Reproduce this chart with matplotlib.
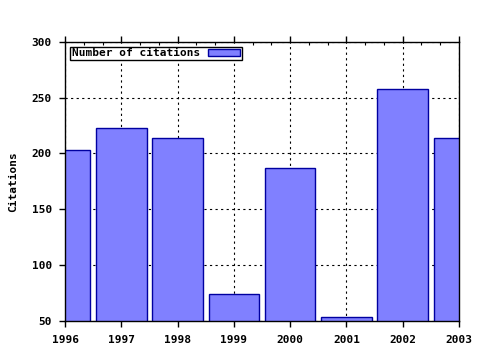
import matplotlib
matplotlib.use("Agg")
import matplotlib.pyplot as plt
from matplotlib.ticker import MultipleLocator

years = [1996, 1997, 1998, 1999, 2000, 2001, 2002, 2003]
citations = [203, 223, 214, 74, 187, 53, 258, 214]
series_label = "Number of citations"
y_label = "Citations"

plt.rcParams['font.family'] = ['DejaVu Sans Mono']
plt.rcParams['font.weight'] = 'bold'
plt.rcParams['axes.labelweight'] = 'bold'

fig = plt.figure(figsize=(4.8, 3.5), dpi=100)
ax = fig.add_axes([65/480, 1 - 320.7/350, (459 - 65)/480, (320.7 - 41.7)/350])

ax.bar(years, citations, width=0.9, bottom=0, color='#8080ff',
       edgecolor='#0000a0', linewidth=1.0, label=series_label, zorder=2)

ax.set_xlim(1996, 2003)
ax.set_ylim(50, 300)
ax.set_xticks(years)
ax.set_yticks([50, 100, 150, 200, 250, 300])
ax.xaxis.set_minor_locator(MultipleLocator(1/3))

# dotted grid behind the bars
ax.grid(True, which='major', color='black', linestyle=(0, (2, 3)), linewidth=0.8, zorder=0)
ax.set_axisbelow(True)

ax.tick_params(axis='x', which='major', direction='out', top=True, bottom=True,
               length=4, width=1, labelsize=8, pad=6)
ax.tick_params(axis='x', which='minor', direction='in', top=True, bottom=True,
               length=2.5, width=0.8)
ax.tick_params(axis='y', which='major', direction='out', length=4, width=1,
               labelsize=8, right=False, pad=5.5)

for s in ax.spines.values():
    s.set_linewidth(1.0)
    s.set_color('black')

ax.set_ylabel(y_label, fontsize=8, labelpad=10)

leg = ax.legend(loc='upper left', markerfirst=False, fontsize=8,
                fancybox=False, framealpha=1, edgecolor='black',
                borderpad=0.15, borderaxespad=0.45, handlelength=2.9,
                handleheight=0.6, handletextpad=0.75)
leg.get_frame().set_linewidth(1.0)

fig.savefig("out.png", dpi=100)
